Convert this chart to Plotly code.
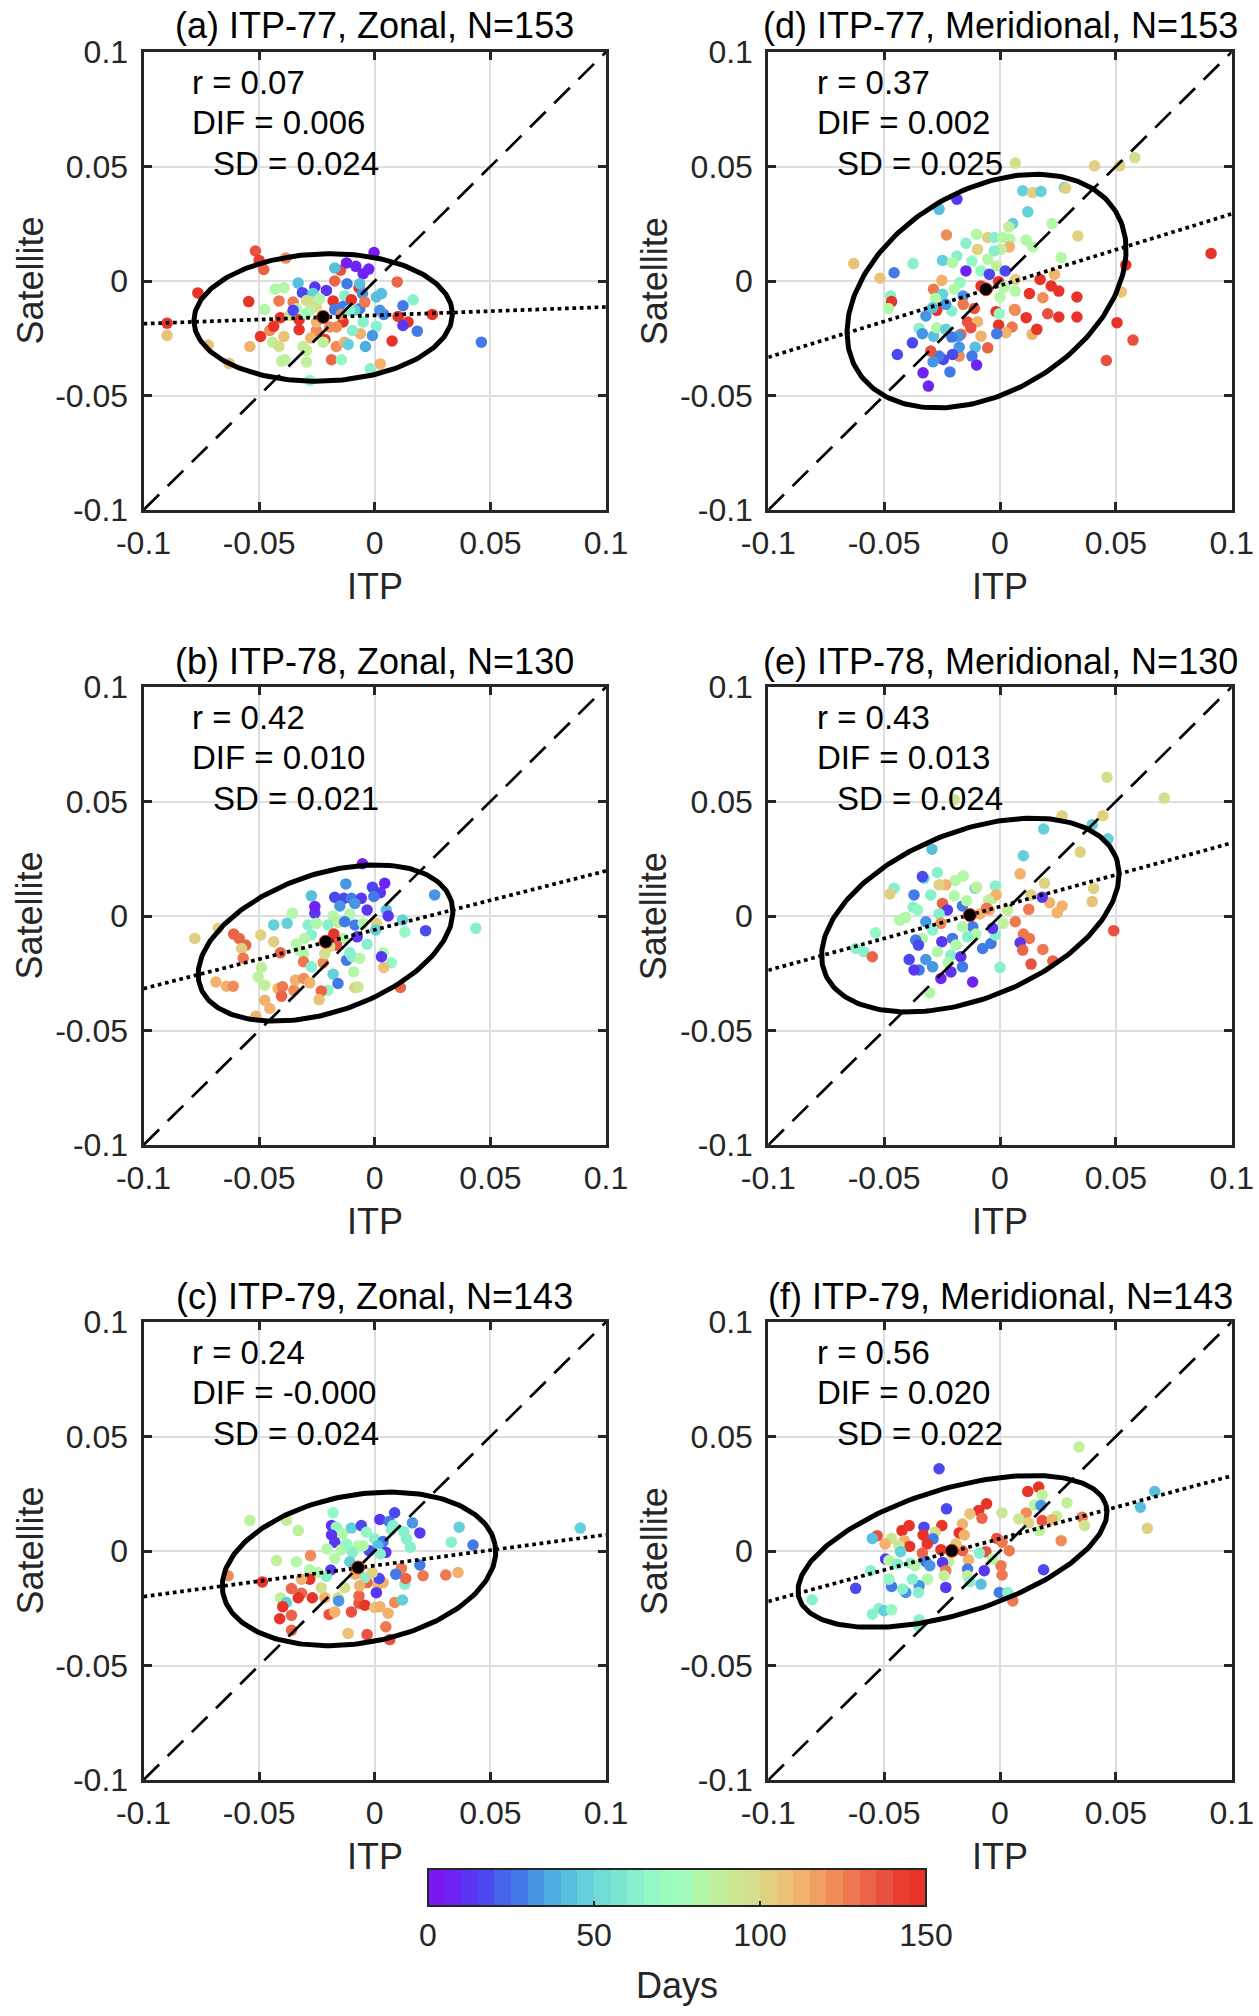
import numpy as np
import plotly.graph_objects as go

W, H = 1259, 2016
FONT = "Liberation Sans, Arial, Helvetica, sans-serif"
INK = "#262626"


def px_x(p):
    return p / W


def px_y(p):
    return 1 - p / H


# ---- axis ticks / colour bar ----
axis_ticks = [-0.1, -0.05, 0, 0.05, 0.1]
axis_ticktext = ["-0.1", "-0.05", "0", "0.05", "0.1"]
one_to_one = [-0.1, 0.1]
day_ticks = [0, 50, 100, 150]
bin_colors = ["#7a18f3", "#6e22f4", "#5a36f2", "#4c48f0", "#4464ec", "#427ae8",
              "#4796e4", "#4eaee2", "#58c0de", "#64d0da", "#70dcd4", "#7ae6cf",
              "#88f0cc", "#94f8c4", "#9cfcbc", "#a4faba", "#b2f8a8", "#c0f09c",
              "#cce694", "#d4de8c", "#dfd082", "#ebc278", "#f2b26c", "#f0a062",
              "#f08c58", "#ee7850", "#ec6448", "#ea5040", "#e83e30", "#e83428"]

# ---- (a) ITP-77 zonal ----
itp_a = [-0.0516, -0.0500, -0.0480, -0.0385, -0.0765, -0.0898, -0.0898, -0.0720, -0.0630, -0.0545,
         -0.0540, -0.0494, -0.0476, -0.0454, -0.0437, -0.0430, -0.0393, -0.0414, -0.0408, -0.0442,
         -0.0414, -0.0393, -0.0403, -0.0389, -0.0353, -0.0331, -0.0313, -0.0339, -0.0327, -0.0327,
         -0.0295, -0.0281, -0.0295, -0.0259, -0.0267, -0.0269, -0.0252, -0.0281, -0.0209, -0.0252,
         -0.0277, -0.0216, -0.0180, -0.0173, -0.0148, -0.0173, -0.0122, -0.0082, -0.0003, -0.0026,
         -0.0120, -0.0130, -0.0101, -0.0068, -0.0053, -0.0065, -0.0043, 0.0007, 0.0029, 0.0097,
         0.0122, 0.0166, 0.0039, 0.0101, 0.0144, 0.0122, 0.0184, 0.0249, 0.0075, 0.0007,
         -0.0050, -0.0010, -0.0062, -0.0040, 0.0024, -0.0019, 0.0461, -0.0187, -0.0144, -0.0166,
         -0.0130, -0.0115, -0.0137, -0.0097, -0.0166, -0.0223, -0.0310, -0.0173, -0.0086, -0.0137,
         0.0022, -0.0238, -0.0295, -0.0195, -0.0252, -0.0367, -0.0353, -0.0144, -0.0108, -0.0050,
         -0.0065, -0.0295]
sat_a = [0.0131, 0.0090, 0.0050, 0.0100, -0.0052, -0.0184, -0.0238, -0.0280, -0.0360, -0.0090,
         -0.0286, -0.0242, -0.0125, -0.0216, -0.0198, -0.0036, -0.0029, -0.0087, -0.0160, -0.0267,
         -0.0286, -0.0242, -0.0350, -0.0344, -0.0092, -0.0009, -0.0051, -0.0121, -0.0169, -0.0213,
         -0.0354, -0.0434, -0.0303, -0.0026, -0.0055, -0.0092, -0.0114, -0.0128, -0.0041, -0.0216,
         -0.0249, -0.0255, -0.0087, 0.0000, 0.0047, 0.0057, 0.0079, 0.0064, 0.0124, 0.0052,
         -0.0012, -0.0064, -0.0082, -0.0029, -0.0055, -0.0121, -0.0092, -0.0070, -0.0055, -0.0004,
         -0.0108, -0.0082, -0.0146, -0.0155, -0.0179, -0.0194, -0.0219, -0.0146, -0.0262, -0.0198,
         -0.0179, -0.0238, -0.0230, -0.0286, -0.0362, -0.0383, -0.0267, -0.0344, -0.0344, -0.0286,
         -0.0267, -0.0277, -0.0179, -0.0216, -0.0201, -0.0267, -0.0286, -0.0125, -0.0128, -0.0111,
         -0.0128, -0.0077, -0.0085, -0.0201, -0.0179, -0.0150, -0.0128, -0.0146, -0.0128, 0.0032,
         -0.0012, -0.0143]
days_a = [135, 140, 130, 120, 145, 148, 105, 105, 105, 145,
          112, 145, 80, 120, 145, 80, 80, 125, 145, 85,
          95, 105, 85, 85, 125, 40, 15, 80, 145, 145,
          85, 65, 85, 10, 45, 95, 95, 85, 10, 120,
          112, 145, 145, 130, 135, 40, 8, 8, 3, 5,
          28, 60, 145, 145, 30, 28, 125, 40, 42, 132,
          28, 62, 28, 145, 145, 12, 28, 148, 148, 60,
          62, 30, 112, 38, 112, 62, 25, 130, 65, 120,
          112, 45, 145, 60, 120, 85, 85, 28, 45, 28,
          30, 80, 95, 120, 112, 95, 15, 120, 62, 8,
          42, 70]

# ---- (b) ITP-78 zonal ----
itp_b = [-0.0053, 0.0043, -0.0125, -0.0010, 0.0024, -0.0274, -0.0173, -0.0134, -0.0101, -0.0058,
         -0.0004, 0.0259, -0.0151, -0.0086, -0.0033, 0.0050, 0.0058, -0.0259, -0.0356, -0.0379,
         -0.0437, -0.0180, -0.0108, -0.0288, -0.0252, -0.0202, -0.0159, -0.0130, -0.0086, -0.0050,
         0.0007, 0.0004, 0.0120, 0.0130, 0.0220, 0.0437, -0.0076, -0.0137, -0.0177, -0.0166,
         -0.0274, -0.0303, -0.0339, -0.0308, -0.0408, -0.0437, -0.0493, -0.0610, -0.0586, -0.0558,
         -0.0576, -0.0569, -0.0677, -0.0778, -0.0490, -0.0504, -0.0476, -0.0687, -0.0641, -0.0612,
         -0.0514, -0.0476, -0.0454, -0.0418, -0.0399, -0.0403, -0.0350, -0.0343, -0.0307, -0.0281,
         -0.0308, -0.0274, -0.0223, -0.0180, -0.0159, -0.0202, -0.0231, -0.0241, -0.0086, -0.0072,
         -0.0122, -0.0097, -0.0065, -0.0033, -0.0108, -0.0091, 0.0036, 0.0072, 0.0039, 0.0111,
         0.0029, -0.0259, -0.0195, -0.0216, -0.0327]
sat_b = [0.0228, 0.0143, 0.0140, 0.0126, 0.0102, 0.0088, 0.0082, 0.0077, 0.0077, 0.0077,
         0.0085, 0.0092, 0.0044, 0.0055, 0.0026, 0.0026, 0.0000, 0.0012, 0.0012, -0.0032,
         -0.0039, 0.0000, 0.0009, -0.0039, -0.0032, -0.0039, -0.0029, -0.0025, -0.0039, -0.0032,
         -0.0032, -0.0061, -0.0018, -0.0070, -0.0064, -0.0054, -0.0091, -0.0098, -0.0079, -0.0127,
         -0.0083, -0.0098, -0.0123, -0.0164, -0.0161, -0.0112, -0.0083, -0.0079, -0.0098, -0.0127,
         -0.0142, -0.0185, -0.0054, -0.0098, -0.0225, -0.0266, -0.0302, -0.0288, -0.0307, -0.0307,
         -0.0438, -0.0368, -0.0404, -0.0317, -0.0309, -0.0350, -0.0324, -0.0280, -0.0273, -0.0292,
         -0.0200, -0.0222, -0.0204, -0.0254, -0.0295, -0.0324, -0.0327, -0.0365, -0.0312, -0.0310,
         -0.0193, -0.0178, -0.0185, -0.0123, -0.0161, -0.0244, -0.0161, -0.0204, -0.0225, -0.0312,
         -0.0178, 0.0041, -0.0134, -0.0164, -0.0149]
days_b = [8, 8, 30, 18, 12, 40, 18, 15, 28, 10,
          28, 30, 30, 30, 10, 40, 10, 10, 82, 45,
          45, 80, 82, 60, 82, 62, 85, 28, 28, 82,
          100, 45, 45, 65, 15, 62, 12, 80, 145, 135,
          62, 80, 82, 82, 132, 100, 100, 132, 132, 132,
          100, 125, 100, 100, 85, 85, 85, 115, 115, 120,
          115, 112, 115, 112, 125, 132, 122, 115, 122, 112,
          125, 62, 122, 45, 28, 65, 132, 105, 100, 92,
          28, 60, 82, 60, 62, 82, 82, 65, 105, 132,
          12, 8, 95, 95, 80]

# ---- (c) ITP-79 zonal ----
itp_c = [-0.0540, -0.0382, -0.0331, -0.0180, -0.0187, -0.0166, -0.0140, -0.0187, -0.0173, -0.0101,
         -0.0058, -0.0036, 0.0022, 0.0062, 0.0086, 0.0079, 0.0125, 0.0163, 0.0195, 0.0154,
         0.0365, 0.0331, 0.0425, 0.0889, 0.0000, 0.0036, 0.0014, -0.0024, 0.0048, 0.0024,
         -0.0050, -0.0072, -0.0097, -0.0108, -0.0144, -0.0206, -0.0173, -0.0278, -0.0339, -0.0425,
         -0.0281, -0.0190, -0.0209, -0.0245, -0.0281, -0.0317, -0.0486, -0.0634, -0.0360, -0.0317,
         -0.0331, -0.0270, -0.0216, -0.0231, -0.0159, -0.0130, -0.0156, -0.0408, -0.0382, -0.0398,
         -0.0360, -0.0411, -0.0360, -0.0197, -0.0173, -0.0115, -0.0101, -0.0068, -0.0043, -0.0068,
         -0.0033, 0.0014, 0.0036, 0.0007, 0.0019, -0.0043, -0.0065, -0.0086, -0.0010, 0.0000,
         0.0022, 0.0058, 0.0086, 0.0120, 0.0130, 0.0134, 0.0115, 0.0091, 0.0209, 0.0195,
         0.0307, 0.0360, 0.0048, 0.0065, -0.0033, 0.0072, 0.0137, -0.0122]
sat_c = [0.0133, 0.0133, 0.0089, 0.0167, 0.0111, 0.0104, 0.0075, 0.0070, 0.0038, 0.0100,
         0.0111, 0.0082, 0.0138, 0.0129, 0.0167, 0.0111, 0.0085, 0.0123, 0.0079, 0.0016,
         0.0104, 0.0038, 0.0026, 0.0100, 0.0053, 0.0041, 0.0023, 0.0001, -0.0006, -0.0013,
         0.0023, 0.0023, -0.0006, -0.0047, 0.0006, 0.0009, -0.0032, -0.0020, -0.0047, -0.0042,
         -0.0082, -0.0083, -0.0111, -0.0094, -0.0123, -0.0123, -0.0135, -0.0108, -0.0164, -0.0184,
         -0.0204, -0.0204, -0.0204, -0.0160, -0.0204, -0.0160, -0.0218, -0.0204, -0.0225, -0.0243,
         -0.0281, -0.0296, -0.0346, -0.0277, -0.0266, -0.0360, -0.0266, -0.0228, -0.0237, -0.0196,
         -0.0138, -0.0145, -0.0138, -0.0182, -0.0120, -0.0116, -0.0152, -0.0101, -0.0094, -0.0247,
         -0.0243, -0.0272, -0.0225, -0.0214, -0.0145, -0.0120, -0.0076, -0.0101, -0.0108, -0.0061,
         -0.0105, -0.0094, -0.0331, -0.0387, -0.0365, 0.0094, 0.0053, 0.0031]
days_c = [85, 85, 85, 65, 12, 65, 82, 10, 10, 45,
          18, 65, 12, 28, 18, 62, 62, 30, 12, 62,
          45, 62, 28, 45, 62, 28, 40, 15, 12, 62,
          82, 82, 62, 45, 82, 82, 82, 122, 80, 85,
          82, 12, 62, 82, 145, 112, 148, 122, 132, 132,
          145, 145, 112, 95, 95, 95, 30, 85, 45, 148,
          132, 148, 130, 138, 112, 105, 138, 138, 145, 132,
          132, 115, 115, 12, 15, 62, 115, 115, 100, 105,
          115, 115, 122, 45, 62, 132, 125, 28, 125, 28,
          125, 115, 125, 138, 135, 62, 62, 65]

# ---- (d) ITP-77 meridional ----
itp_d = [0.0066, 0.0408, 0.0517, 0.0582, -0.0186, -0.0263, 0.0098, 0.0141, 0.0177, 0.0278,
         0.0283, 0.0120, 0.0055, 0.0038, 0.0225, 0.0336, -0.0231, -0.0101, -0.0053, -0.0025,
         0.0012, 0.0043, 0.0113, 0.0141, 0.0040, 0.0004, -0.0025, -0.0097, -0.0147, -0.0186,
         -0.0248, -0.0205, -0.0121, -0.0053, -0.0014, 0.0264, -0.0631, -0.0375, -0.0457, -0.0518,
         -0.0472, -0.0468, -0.0482, -0.0147, -0.0082, -0.0046, 0.0023, -0.0251, -0.0173, -0.0198,
         -0.0287, -0.0248, -0.0278, -0.0159, -0.0082, -0.0006, 0.0019, 0.0000, 0.0066, 0.0066,
         0.0173, 0.0221, 0.0254, 0.0235, 0.0127, 0.0185, 0.0332, 0.0543, 0.0524, 0.0911,
         0.0505, 0.0574, 0.0459, 0.0332, 0.0254, 0.0206, 0.0113, 0.0066, -0.0017, -0.0006,
         0.0052, 0.0026, -0.0014, 0.0139, 0.0159, -0.0082, -0.0111, -0.0140, -0.0097, -0.0126,
         -0.0169, -0.0053, -0.0107, -0.0121, -0.0176, -0.0101, -0.0176, -0.0205, -0.0216, -0.0245,
         -0.0263, -0.0289, -0.0299, -0.0378, -0.0443, -0.0332, -0.0309, -0.0349, -0.0335, -0.0287,
         -0.0273, -0.0234, -0.0320, -0.0273, -0.0208, -0.0234, -0.0291, -0.0159, -0.0179, -0.0208,
         0.0062, -0.0003]
sat_d = [0.0515, 0.0503, 0.0503, 0.0539, 0.0357, 0.0313, 0.0394, 0.0386, 0.0391, 0.0408,
         0.0405, 0.0302, 0.0251, 0.0236, 0.0251, 0.0197, 0.0201, 0.0204, 0.0190, 0.0190,
         0.0190, 0.0182, 0.0179, 0.0149, 0.0149, 0.0138, 0.0131, 0.0138, 0.0165, 0.0109,
         0.0090, 0.0080, 0.0087, 0.0095, 0.0066, 0.0102, 0.0076, 0.0076, 0.0036, 0.0012,
         -0.0066, -0.0090, -0.0120, 0.0044, 0.0044, 0.0029, 0.0044, 0.0003, -0.0007, -0.0036,
         -0.0036, -0.0058, -0.0076, -0.0066, -0.0022, -0.0003, -0.0026, -0.0070, -0.0044, 0.0007,
         0.0007, -0.0022, -0.0044, 0.0029, -0.0055, -0.0073, -0.0070, 0.0070, -0.0048, 0.0120,
         -0.0182, -0.0258, -0.0347, -0.0157, -0.0157, -0.0143, -0.0160, -0.0128, -0.0134, -0.0192,
         -0.0201, -0.0226, -0.0230, -0.0233, -0.0211, -0.0241, -0.0120, -0.0179, -0.0178, -0.0204,
         -0.0233, -0.0292, -0.0289, -0.0328, -0.0328, -0.0367, -0.0289, -0.0321, -0.0397, -0.0343,
         -0.0328, -0.0353, -0.0306, -0.0270, -0.0321, -0.0401, -0.0459, -0.0207, -0.0230, -0.0241,
         -0.0204, -0.0211, -0.0153, -0.0128, -0.0131, -0.0102, -0.0117, -0.0102, -0.0241, -0.0245,
         -0.0124, -0.0143]
days_d = [95, 100, 100, 95, 10, 40, 45, 100, 45, 45,
          100, 45, 48, 85, 80, 100, 120, 80, 100, 60,
          82, 82, 80, 80, 112, 85, 60, 100, 62, 60,
          45, 80, 65, 80, 85, 80, 105, 62, 25, 105,
          62, 148, 80, 8, 65, 15, 15, 115, 65, 82,
          125, 45, 80, 30, 145, 145, 82, 82, 80, 100,
          145, 145, 145, 112, 145, 122, 145, 145, 105, 148,
          148, 138, 135, 145, 145, 135, 145, 122, 145, 145,
          125, 115, 28, 112, 145, 112, 135, 135, 115, 135,
          130, 130, 40, 28, 122, 8, 30, 18, 25, 18,
          28, 30, 135, 15, 18, 8, 5, 62, 30, 40,
          80, 45, 30, 145, 60, 30, 40, 125, 30, 28,
          122, 65]

# ---- (e) ITP-78 meridional ----
itp_e = [0.0462, 0.0709, -0.0198, 0.0268, 0.0444, 0.0398, 0.0466, 0.0188, 0.0346, 0.0101,
         -0.0294, 0.0087, 0.0192, 0.0404, 0.0398, 0.0268, 0.0247, 0.0214, 0.0182, 0.0134,
         0.0124, 0.0491, 0.0066, 0.0101, 0.0127, 0.0087, 0.0098, 0.0185, 0.0134, 0.0228,
         0.0000, 0.0014, 0.0033, -0.0032, -0.0020, -0.0017, -0.0107, -0.0101, -0.0049, -0.0046,
         -0.0087, -0.0118, -0.0162, -0.0144, -0.0198, -0.0159, -0.0193, -0.0234, -0.0263, -0.0270,
         -0.0328, -0.0335, -0.0299, -0.0371, -0.0248, -0.0227, -0.0263, -0.0375, -0.0356, -0.0407,
         -0.0433, -0.0457, -0.0475, -0.0537, -0.0623, -0.0587, -0.0551, -0.0320, -0.0255, -0.0291,
         -0.0335, -0.0364, -0.0352, -0.0251, -0.0205, -0.0190, -0.0270, -0.0212, -0.0224, -0.0169,
         -0.0162, -0.0212, -0.0255, -0.0320, -0.0291, -0.0349, -0.0371, -0.0392, -0.0118, -0.0303,
         -0.0075, -0.0039, -0.0020, -0.0104, -0.0140, -0.0032, -0.0058, -0.0162]
sat_e = [0.0606, 0.0515, 0.0508, 0.0438, 0.0438, 0.0399, 0.0337, 0.0380, 0.0279, 0.0263,
         0.0292, 0.0184, 0.0143, 0.0120, 0.0063, 0.0044, 0.0015, 0.0058, 0.0082, 0.0092,
         0.0029, -0.0064, -0.0025, -0.0079, -0.0098, -0.0117, -0.0149, -0.0146, -0.0210, -0.0196,
         -0.0225, -0.0032, 0.0026, 0.0077, 0.0131, 0.0092, 0.0121, 0.0126, 0.0070, 0.0026,
         0.0009, -0.0047, 0.0044, 0.0067, 0.0088, 0.0175, 0.0155, 0.0136, 0.0136, 0.0190,
         0.0165, 0.0172, 0.0092, 0.0092, 0.0055, 0.0026, 0.0009, 0.0038, 0.0026, -0.0006,
         -0.0018, 0.0121, 0.0096, -0.0073, -0.0142, -0.0156, -0.0178, -0.0025, -0.0032, -0.0061,
         -0.0098, -0.0105, -0.0127, -0.0112, -0.0098, -0.0127, -0.0156, -0.0171, -0.0204, -0.0178,
         -0.0222, -0.0244, -0.0273, -0.0190, -0.0222, -0.0236, -0.0236, -0.0190, -0.0288, -0.0336,
         -0.0142, -0.0120, -0.0083, -0.0079, -0.0091, -0.0054, 0.0034, -0.0047]
days_e = [95, 95, 95, 100, 100, 45, 45, 45, 100, 45,
          42, 112, 100, 100, 105, 115, 115, 115, 12, 100,
          125, 135, 125, 125, 125, 12, 132, 125, 138, 132,
          62, 85, 85, 82, 62, 112, 45, 85, 85, 115,
          115, 28, 28, 82, 82, 82, 82, 112, 100, 62,
          45, 15, 62, 28, 130, 12, 62, 62, 65, 80,
          80, 62, 100, 65, 62, 62, 132, 30, 122, 62,
          82, 28, 15, 12, 28, 82, 82, 62, 82, 12,
          28, 12, 8, 30, 30, 28, 12, 15, 8, 80,
          28, 28, 62, 82, 62, 12, 125, 82]

# ---- (f) ITP-79 meridional ----
itp_f = [0.0341, -0.0263, -0.0231, 0.0120, 0.0167, 0.0182, 0.0149, 0.0177, 0.0289, 0.0245,
         0.0355, 0.0365, 0.0668, 0.0606, 0.0636, 0.0264, -0.0058, -0.0092, -0.0078, -0.0130,
         -0.0162, 0.0009, 0.0113, 0.0081, 0.0124, 0.0182, 0.0225, 0.0170, -0.0014, 0.0009,
         0.0040, -0.0061, -0.0251, -0.0176, -0.0154, -0.0280, -0.0328, -0.0332, -0.0289, -0.0314,
         -0.0335, -0.0392, -0.0423, -0.0413, -0.0390, -0.0436, -0.0468, -0.0496, -0.0530, -0.0551,
         -0.0429, -0.0494, -0.0479, -0.0443, -0.0385, -0.0367, -0.0320, -0.0303, -0.0255, -0.0222,
         -0.0248, -0.0234, -0.0136, -0.0140, -0.0089, -0.0068, -0.0140, -0.0130, -0.0082, -0.0003,
         0.0033, 0.0055, 0.0004, 0.0009, 0.0188, -0.0234, -0.0241, -0.0313, -0.0349, -0.0352,
         -0.0407, -0.0421, -0.0468, -0.0479, -0.0378, -0.0558, -0.0623, -0.0811, -0.0551, -0.0522,
         -0.0500, -0.0468, -0.0352, -0.0349, -0.0032, -0.0162, -0.0190]
sat_f = [0.0454, 0.0359, 0.0184, 0.0260, 0.0279, 0.0245, 0.0201, 0.0199, 0.0210, 0.0152,
         0.0147, 0.0111, 0.0260, 0.0191, 0.0099, 0.0045, 0.0206, 0.0177, 0.0143, 0.0162,
         0.0118, 0.0166, 0.0166, 0.0140, 0.0123, 0.0133, 0.0137, 0.0089, 0.0055, 0.0038,
         0.0001, -0.0003, 0.0111, 0.0079, 0.0070, 0.0082, 0.0104, 0.0070, 0.0053, 0.0031,
         -0.0009, 0.0111, 0.0089, 0.0045, 0.0020, 0.0023, 0.0055, 0.0031, 0.0067, 0.0055,
         -0.0003, -0.0035, -0.0042, -0.0057, -0.0053, -0.0064, -0.0047, -0.0064, 0.0006, -0.0047,
         -0.0050, -0.0086, -0.0038, -0.0079, -0.0009, -0.0086, -0.0108, -0.0134, -0.0145, -0.0181,
         -0.0181, -0.0218, -0.0064, -0.0105, -0.0082, -0.0159, -0.0108, -0.0123, -0.0152, -0.0181,
         -0.0181, -0.0166, -0.0155, -0.0123, -0.0123, -0.0086, -0.0163, -0.0213, -0.0276, -0.0251,
         -0.0261, -0.0257, -0.0327, -0.0301, -0.0035, 0.0001, 0.0031]
days_f = [85, 15, 15, 145, 145, 85, 82, 30, 85, 85,
          125, 92, 42, 40, 100, 122, 145, 145, 132, 105,
          112, 92, 122, 92, 100, 135, 112, 85, 135, 125,
          125, 135, 145, 145, 112, 95, 18, 145, 28, 145,
          132, 145, 145, 112, 145, 92, 92, 112, 135, 42,
          45, 12, 82, 62, 62, 82, 28, 30, 145, 85,
          12, 125, 112, 28, 62, 12, 85, 62, 42, 28,
          62, 125, 125, 125, 15, 12, 85, 82, 30, 62,
          30, 62, 28, 65, 62, 62, 15, 62, 62, 62,
          45, 65, 62, 62, 82, 132, 105]

# ---- per-panel statistics ----
panel_titles = ["(a) ITP-77, Zonal, N=153", "(b) ITP-78, Zonal, N=130", "(c) ITP-79, Zonal, N=143",
                "(d) ITP-77, Meridional, N=153", "(e) ITP-78, Meridional, N=130",
                "(f) ITP-79, Meridional, N=143"]
r_text = ["0.07", "0.42", "0.24", "0.37", "0.43", "0.56"]
dif_text = ["0.006", "0.010", "-0.000", "0.002", "0.013", "0.020"]
sd_text = ["0.024", "0.021", "0.024", "0.025", "0.024", "0.022"]
mean_itp = [-0.0223, -0.0212, -0.0072, -0.0061, -0.0130, -0.0208]
mean_sat = [-0.0157, -0.0112, -0.0072, -0.0036, 0.0004, 0.0001]
fit_slope = [0.0365, 0.257, 0.135, 0.313, 0.278, 0.274]
fit_icept = [-0.0150, -0.0060, -0.0064, -0.0020, 0.0041, 0.0054]
ell_cx = [-0.0223, -0.0213, -0.0068, -0.0058, -0.0128, -0.0205]
ell_cy = [-0.0159, -0.0118, -0.0078, -0.0044, 0.0004, -0.0002]
ell_a = [0.0559, 0.0574, 0.0598, 0.0657, 0.0677, 0.0693]
ell_b = [0.0278, 0.0300, 0.0323, 0.0437, 0.0364, 0.0273]
ell_deg = [2.0, 19.4, 10.3, 32.4, 22.2, 17.2]

itp_all = [itp_a, itp_b, itp_c, itp_d, itp_e, itp_f]
sat_all = [sat_a, sat_b, sat_c, sat_d, sat_e, sat_f]
days_all = [days_a, days_b, days_c, days_d, days_e, days_f]

# panel frames in page pixels (left, right) / (top, bottom)
col_px = [(143.5, 606.0), (768.3, 1231.7)]
row_px = [(52.0, 510.0), (687.0, 1145.0), (1322.0, 1780.0)]

colorscale = []
for i, c in enumerate(bin_colors):
    colorscale.append([i / len(bin_colors), c])
    colorscale.append([(i + 1) / len(bin_colors), c])

fig = go.Figure()
annotations = []
layout_axes = {}

t = np.linspace(0, 2 * np.pi, 241)
for k in range(6):
    col, row = k // 3, k % 3
    x0, x1 = col_px[col]
    y0, y1 = row_px[row]
    sfx = "" if k == 0 else str(k + 1)
    xa, ya = "x" + sfx, "y" + sfx

    common = dict(range=[-0.1, 0.1], tickvals=axis_ticks, ticktext=axis_ticktext,
                  showgrid=True, gridcolor="#dedede", gridwidth=2, zeroline=False,
                  showline=True, linecolor=INK, linewidth=3, mirror="ticks",
                  ticks="inside", ticklen=8, tickwidth=2.5, tickcolor=INK, automargin=False,
                  tickfont=dict(family=FONT, size=32, color=INK), fixedrange=True)
    layout_axes["xaxis" + sfx] = dict(common, domain=[px_x(x0), px_x(x1)], anchor=ya,
                                      ticklabelstandoff=3)
    layout_axes["yaxis" + sfx] = dict(common, domain=[px_y(y1), px_y(y0)], anchor=xa,
                                      ticklabelstandoff=6)

    cb = None
    if k == 0:
        cb = dict(orientation="h", x=px_x(677), xanchor="center", y=px_y(1869), yanchor="top",
                  len=498 / W, lenmode="fraction", thickness=37, thicknessmode="pixels",
                  outlinewidth=2, outlinecolor=INK, tickvals=day_ticks, ticks="inside",
                  ticklen=6, tickwidth=1.5, tickcolor=INK, xpad=0, ypad=0,
                  tickfont=dict(family=FONT, size=32, color=INK))
    fig.add_trace(go.Scatter(
        x=itp_all[k], y=sat_all[k], xaxis=xa, yaxis=ya, mode="markers",
        marker=dict(size=11.5, color=days_all[k], colorscale=colorscale, cmin=0, cmax=150,
                    line=dict(width=0), showscale=(k == 0), colorbar=cb),
        showlegend=False, hoverinfo="skip"))

    th = np.deg2rad(ell_deg[k])
    ex = ell_cx[k] + ell_a[k] * np.cos(t) * np.cos(th) - ell_b[k] * np.sin(t) * np.sin(th)
    ey = ell_cy[k] + ell_a[k] * np.cos(t) * np.sin(th) + ell_b[k] * np.sin(t) * np.cos(th)
    fig.add_trace(go.Scatter(x=ex, y=ey, xaxis=xa, yaxis=ya, mode="lines",
                             line=dict(color="black", width=5), showlegend=False, hoverinfo="skip"))

    fig.add_trace(go.Scatter(x=one_to_one, y=one_to_one, xaxis=xa, yaxis=ya, mode="lines",
                             line=dict(color="black", width=2.7, dash="22px,12px"),
                             showlegend=False, hoverinfo="skip"))

    fx = np.array(one_to_one)
    fig.add_trace(go.Scatter(x=fx, y=fit_slope[k] * fx + fit_icept[k], xaxis=xa, yaxis=ya,
                             mode="lines", line=dict(color="black", width=3.7, dash="dot"),
                             showlegend=False, hoverinfo="skip"))

    fig.add_trace(go.Scatter(x=[mean_itp[k]], y=[mean_sat[k]], xaxis=xa, yaxis=ya, mode="markers",
                             marker=dict(size=13, color="black", line=dict(width=1, color="#e83428")),
                             showlegend=False, hoverinfo="skip"))

    txt = dict(font=dict(family=FONT, size=33, color="black"), showarrow=False,
               xanchor="left", yanchor="middle", xref=xa, yref=ya)
    annotations.append(dict(txt, x=-0.080, y=0.0865, text="r = " + r_text[k]))
    annotations.append(dict(txt, x=-0.080, y=0.0690, text="DIF = " + dif_text[k]))
    annotations.append(dict(txt, x=-0.071, y=0.0515, text="SD = " + sd_text[k]))

    cx_px = (x0 + x1) / 2
    cy_px = (y0 + y1) / 2
    annotations.append(dict(text=panel_titles[k], x=px_x(cx_px), y=px_y(y0 - 26),
                            xref="paper", yref="paper", showarrow=False,
                            xanchor="center", yanchor="middle",
                            font=dict(family=FONT, size=36, color="black")))
    annotations.append(dict(text="ITP", x=px_x(cx_px), y=px_y(y1 + 76),
                            xref="paper", yref="paper", showarrow=False,
                            xanchor="center", yanchor="middle",
                            font=dict(family=FONT, size=36, color=INK)))
    annotations.append(dict(text="Satellite", x=px_x(x0 - 114), y=px_y(cy_px),
                            xref="paper", yref="paper", showarrow=False, textangle=-90,
                            xanchor="center", yanchor="middle",
                            font=dict(family=FONT, size=36, color=INK)))

annotations.append(dict(text="Days", x=px_x(677), y=px_y(1985), xref="paper", yref="paper",
                        showarrow=False, xanchor="center", yanchor="middle",
                        font=dict(family=FONT, size=36, color=INK)))

fig.update_layout(
    width=W, height=H,
    margin=dict(l=0, r=0, t=0, b=0, autoexpand=False),
    paper_bgcolor="white", plot_bgcolor="white",
    showlegend=False,
    annotations=annotations,
    **layout_axes,
)

# drop the page's default body margin so the figure fills the window exactly
fig.write_html("out.html", config={"displayModeBar": False},
               post_script="document.body.style.margin='0px';")
